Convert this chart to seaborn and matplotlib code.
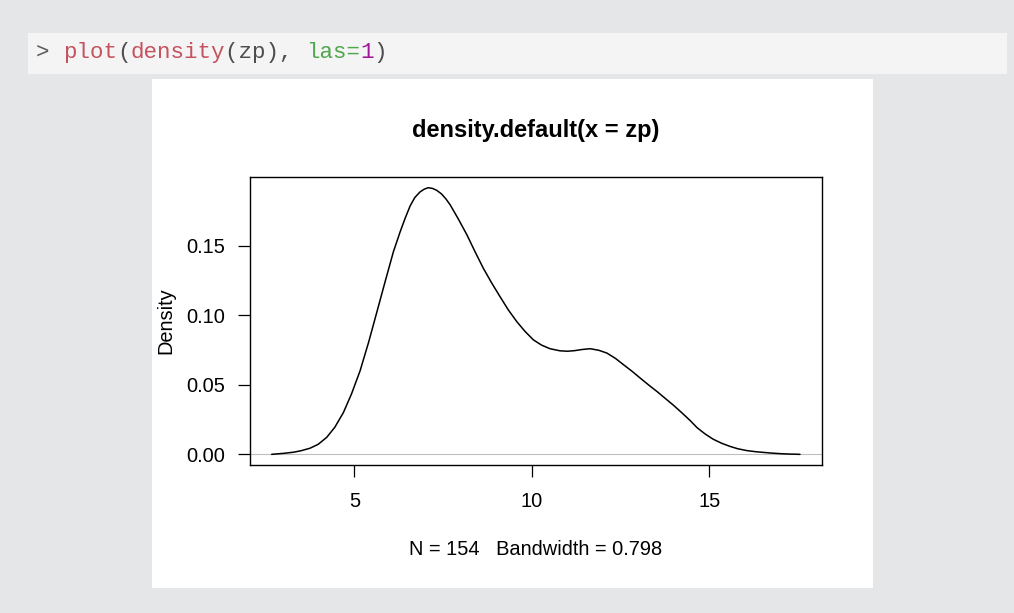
import matplotlib
matplotlib.use("Agg")
import matplotlib.pyplot as plt
import seaborn as sns
import pandas as pd
from matplotlib.patches import Rectangle

# ---- data ----
density_x = [2.67, 3.00, 3.28, 3.50, 3.75, 3.98, 4.22, 4.45, 4.69, 4.92,
             5.16, 5.40, 5.63, 5.87, 6.10, 6.29, 6.43, 6.57, 6.70, 6.85,
             6.97, 7.08, 7.20, 7.32, 7.45, 7.58, 7.70, 7.93, 8.17, 8.40,
             8.63, 8.87, 9.10, 9.33, 9.57, 9.80, 10.04, 10.27, 10.51, 10.79,
             11.00, 11.20, 11.40, 11.64, 11.88, 12.11, 12.35, 12.58, 12.82,
             13.05, 13.28, 13.52, 13.75, 13.99, 14.23, 14.46, 14.65, 14.88,
             15.11, 15.35, 15.58, 15.80, 16.05, 16.30, 16.52, 16.75, 16.99,
             17.25, 17.55]
density_y = [0.0000, 0.0007, 0.0015, 0.0026, 0.0044, 0.0072, 0.0122, 0.0195,
             0.0300, 0.0435, 0.0600, 0.0805, 0.1020, 0.1245, 0.1457, 0.1600,
             0.1697, 0.1785, 0.1845, 0.1886, 0.1906, 0.1916, 0.1911, 0.1897,
             0.1872, 0.1835, 0.1792, 0.1690, 0.1577, 0.1455, 0.1338, 0.1230,
             0.1134, 0.1040, 0.0955, 0.0885, 0.0823, 0.0785, 0.0759, 0.0744,
             0.0741, 0.0745, 0.0753, 0.0759, 0.0748, 0.0728, 0.0690, 0.0644,
             0.0597, 0.0548, 0.0500, 0.0452, 0.0403, 0.0352, 0.0297, 0.0242,
             0.0192, 0.0146, 0.0108, 0.0079, 0.0057, 0.0040, 0.0027, 0.0019,
             0.0014, 0.0009, 0.0005, 0.0002, 0.0000]
x_ticks = [5, 10, 15]
x_tick_labels = ["5", "10", "15"]
y_ticks = [0.00, 0.05, 0.10, 0.15]
y_tick_labels = ["0.00", "0.05", "0.10", "0.15"]
title_text = "density.default(x = zp)"
x_label = "N = 154   Bandwidth = 0.798"
y_label = "Density"
code_tokens = [">", " ", "plot", "(", "density", "(zp), ", "las=", "1", ")"]
code_colors = ["#5b5b5b", "#5b5b5b", "#c4525f", "#4d4d4d", "#c4525f",
               "#4d4d4d", "#4fa64f", "#a3189b", "#4d4d4d"]

sns.set_style("ticks")
plt.rcParams["font.family"] = ["Liberation Sans", "DejaVu Sans"]
plt.rcParams["text.color"] = "black"
plt.rcParams["axes.labelcolor"] = "black"
plt.rcParams["xtick.color"] = "black"
plt.rcParams["ytick.color"] = "black"

W, H = 1014, 613
fig = plt.figure(figsize=(W / 100, H / 100), dpi=100)
fig.patch.set_facecolor("#e5e6e8")


def px_rect(x0, y0, x1, y1, color):
    fig.patches.append(Rectangle((x0 / W, 1 - y1 / H), (x1 - x0) / W, (y1 - y0) / H,
                                 transform=fig.transFigure, facecolor=color,
                                 edgecolor="none", zorder=-10))


px_rect(28, 33, 1007, 74, "#f4f4f4")
px_rect(152, 79, 873, 588, "#ffffff")

# code line
char_w = 13.5
x0 = 36
pos = 0
for tok, col in zip(code_tokens, code_colors):
    fig.text((x0 + pos * char_w) / W, 1 - 58 / H, tok, color=col,
             fontsize=16.2, family=["Liberation Mono", "DejaVu Sans Mono"],
             ha="left", va="baseline")
    pos += len(tok)

ax = fig.add_axes([250 / W, 1 - 465 / H, 572 / W, 288 / H])
ax.set_facecolor("white")
df = pd.DataFrame({"x": density_x, "y": density_y})
ax.axhline(0, color="#bebebe", lw=0.8, zorder=1)
sns.lineplot(data=df, x="x", y="y", ax=ax, color="black", lw=1.1, zorder=2)

ax.set_xlim(2.06, 18.17)
ax.set_ylim(-0.00766, 0.1993)
ax.set_xticks(x_ticks)
ax.set_xticklabels(x_tick_labels)
ax.set_yticks(y_ticks)
ax.set_yticklabels(y_tick_labels)

for s in ax.spines.values():
    s.set_visible(True)
    s.set_color("black")
    s.set_linewidth(1.0)

ax.tick_params(axis="both", direction="out", length=8.6, width=0.9,
               colors="black", labelsize=14.4)
ax.tick_params(axis="x", pad=10.5)
ax.tick_params(axis="y", pad=9)

ax.set_title(title_text, fontsize=17, fontweight="bold", pad=28.8, color="black")
ax.set_xlabel(x_label, fontsize=14.4, color="black")
ax.set_ylabel(y_label, fontsize=14.4, color="black")
ax.xaxis.set_label_coords(0.5, -0.262)
ax.yaxis.set_label_coords(-0.131, 0.5)
ax.grid(False)

fig.savefig("out.png", dpi=100, facecolor=fig.get_facecolor())
